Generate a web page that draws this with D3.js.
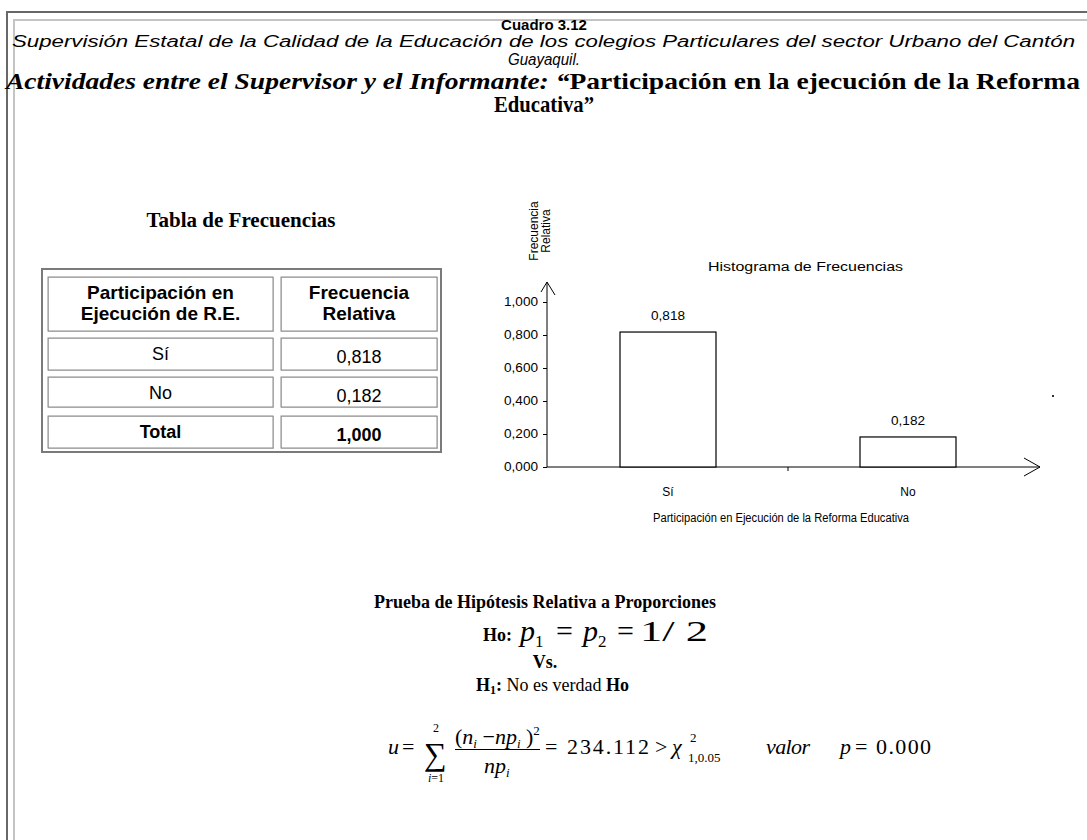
<!DOCTYPE html>
<html>
<head>
<meta charset="utf-8">
<title>Cuadro 3.12</title>
<script src="https://d3js.org/d3.v7.min.js"></script>
<style>
  body { margin: 0; background: #fff; }
  svg { display: block; }
  .sans { font-family: "Liberation Sans", Arial, sans-serif; }
  .serif { font-family: "Liberation Serif", "Times New Roman", serif; }
</style>
</head>
<body>
<svg id="chart"></svg>
<script>
// datos
const categories = ["Sí", "No"];
const relFreq = [0.818, 0.182];
const yTicks = [0, 0.2, 0.4, 0.6, 0.8, 1.0];
const headerCol1 = ["Participación en", "Ejecución de R.E."];
const headerCol2 = ["Frecuencia", "Relativa"];
const totalLabel = "Total";
const chiValue = "234.112";
const pValue = "0.000";

const W = 1087, H = 840;
const svg = d3.select("#chart").attr("width", W).attr("height", H);

// formato con coma decimal
const es = d3.formatLocale({decimal: ",", thousands: ".", grouping: [3], currency: ["", ""]});
const fmt = es.format(".3f");

// marco
svg.append("path").attr("d", `M7,${H} V12 H${W}`).attr("fill", "none").attr("stroke", "#686868").attr("stroke-width", 2);
svg.append("path").attr("d", `M14,${H} V20 H${W}`).attr("fill", "none").attr("stroke", "#c4c4c4").attr("stroke-width", 2);

// encabezados
svg.append("text").attr("class", "sans").attr("x", 544).attr("y", 30).attr("text-anchor", "middle")
  .attr("font-size", 15).attr("font-weight", "bold").text("Cuadro 3.12");
svg.append("text").attr("class", "sans").attr("x", 12).attr("y", 47).attr("font-size", 16).attr("font-style", "italic")
  .attr("textLength", 1063).attr("lengthAdjust", "spacingAndGlyphs")
  .text("Supervisión Estatal de la Calidad de la Educación de los colegios Particulares del sector Urbano del Cantón");
svg.append("text").attr("class", "sans").attr("x", 544).attr("y", 65).attr("text-anchor", "middle")
  .attr("font-size", 16).attr("font-style", "italic").attr("textLength", 72).attr("lengthAdjust", "spacingAndGlyphs")
  .text("Guayaquil.");

const t1 = svg.append("text").attr("class", "serif").attr("x", 6).attr("y", 89).attr("font-size", 24)
  .attr("font-weight", "bold").attr("textLength", 1074).attr("lengthAdjust", "spacingAndGlyphs");
t1.append("tspan").attr("font-style", "italic").text("Actividades entre el Supervisor y el Informante: “");
t1.append("tspan").text("Participación en la ejecución de la Reforma");
svg.append("text").attr("class", "serif").attr("x", 544).attr("y", 112).attr("text-anchor", "middle")
  .attr("font-size", 24).attr("font-weight", "bold").attr("textLength", 100).attr("lengthAdjust", "spacingAndGlyphs")
  .text("Educativa”");

// tabla de frecuencias
svg.append("text").attr("class", "serif").attr("x", 241).attr("y", 227).attr("text-anchor", "middle")
  .attr("font-size", 21).attr("font-weight", "bold").text("Tabla de Frecuencias");

const rows = categories.map((c, i) => ({a: c, b: fmt(relFreq[i]), bold: false}));
rows.push({a: totalLabel, b: fmt(d3.sum(relFreq)), bold: true});

const tbl = svg.append("g").attr("class", "sans");
tbl.append("rect").attr("x", 42).attr("y", 269).attr("width", 399).attr("height", 183)
  .attr("fill", "none").attr("stroke", "#7a7a7a").attr("stroke-width", 2);

const colX = [48, 281], colW = [225, 156];
const headTop = 277, headH = 54, rowH = 32, gap = 7;
const cell = (x, y, w, h) => {
  tbl.append("rect").attr("x", x + 0.5).attr("y", y + 0.5).attr("width", w).attr("height", h)
    .attr("fill", "none").attr("stroke", "#c8c8c8").attr("stroke-width", 1);
  tbl.append("rect").attr("x", x).attr("y", y).attr("width", w).attr("height", h)
    .attr("fill", "none").attr("stroke", "#8a8a8a").attr("stroke-width", 1);
};
[headerCol1, headerCol2].forEach((lines, j) => {
  cell(colX[j], headTop, colW[j], headH);
  lines.forEach((l, k) => {
    tbl.append("text").attr("x", colX[j] + colW[j] / 2).attr("y", headTop + 22 + k * 21)
      .attr("text-anchor", "middle").attr("font-size", 19).attr("font-weight", "bold").text(l);
  });
});
rows.forEach((r, i) => {
  const y = headTop + headH + gap + i * (rowH + gap);
  cell(colX[0], y, colW[0], rowH - (i === 1 ? 2 : 0));
  cell(colX[1], y, colW[1], rowH - (i === 1 ? 2 : 0));
  tbl.append("text").attr("x", colX[0] + colW[0] / 2).attr("y", y + 22).attr("text-anchor", "middle")
    .attr("font-size", 18).attr("font-weight", r.bold ? "bold" : "normal").text(r.a);
  tbl.append("text").attr("x", colX[1] + colW[1] / 2).attr("y", y + 25).attr("text-anchor", "middle")
    .attr("font-size", 18).attr("font-weight", r.bold ? "bold" : "normal").text(r.b);
});

// histograma
const x = d3.scaleBand().domain(categories).range([548, 1028]).paddingInner(0.6).paddingOuter(0.3);
const y = d3.scaleLinear().domain([0, 1]).range([467, 302]);
const ch = svg.append("g").attr("class", "sans").attr("font-size", 12).attr("fill", "#000");

ch.append("text").attr("x", 708).attr("y", 271).attr("textLength", 195).attr("lengthAdjust", "spacingAndGlyphs")
  .text("Histograma de Frecuencias");

const yAxis = d3.axisLeft(y).tickValues(yTicks).tickFormat(fmt).tickSize(4).tickPadding(5);
const gy = ch.append("g").attr("transform", "translate(547,0)").call(yAxis);
gy.select(".domain").remove();
gy.selectAll("text").attr("font-family", null).attr("font-size", 12)
  .attr("textLength", 34).attr("lengthAdjust", "spacingAndGlyphs");
ch.append("line").attr("x1", 547).attr("x2", 547).attr("y1", y(0)).attr("y2", 282).attr("stroke", "#000");
ch.append("path").attr("d", "M541,292 L547,282 L555,295").attr("fill", "none").attr("stroke", "#000");

ch.append("line").attr("x1", 547).attr("x2", 1040).attr("y1", y(0)).attr("y2", y(0)).attr("stroke", "#000");
ch.append("path").attr("d", `M1024,458 L1040,${y(0)} L1024,476`).attr("fill", "none").attr("stroke", "#000");
ch.append("line").attr("x1", x("No") - x.step() * x.paddingInner() / 2).attr("x2", x("No") - x.step() * x.paddingInner() / 2)
  .attr("y1", y(0)).attr("y2", y(0) + 4).attr("stroke", "#000");

ch.selectAll("rect.bar").data(relFreq).join("rect").attr("class", "bar")
  .attr("x", (d, i) => x(categories[i])).attr("width", x.bandwidth())
  .attr("y", d => y(d)).attr("height", d => y(0) - y(d))
  .attr("fill", "#fff").attr("stroke", "#000").attr("stroke-width", 1.2);
ch.selectAll("text.val").data(relFreq).join("text").attr("class", "val")
  .attr("x", (d, i) => x(categories[i]) + x.bandwidth() / 2 - 17).attr("y", d => y(d) - 12)
  .attr("textLength", 34).attr("lengthAdjust", "spacingAndGlyphs").text(d => fmt(d));
ch.selectAll("text.cat").data(categories).join("text").attr("class", "cat")
  .attr("x", d => x(d) + x.bandwidth() / 2).attr("y", 496).attr("text-anchor", "middle").text(d => d);
ch.append("text").attr("x", 653).attr("y", 522).attr("textLength", 256).attr("lengthAdjust", "spacingAndGlyphs")
  .text("Participación en Ejecución de la Reforma Educativa");

const yl = ch.append("text").attr("transform", "translate(538,231) rotate(-90)").attr("text-anchor", "middle");
yl.append("tspan").attr("x", 0).attr("dy", 0).text("Frecuencia");
yl.append("tspan").attr("x", 0).attr("dy", 12).text("Relativa");
ch.append("rect").attr("x", 1052).attr("y", 395).attr("width", 2).attr("height", 2).attr("fill", "#333");

// prueba de hipótesis
const pr = svg.append("g").attr("class", "serif");
pr.append("text").attr("x", 545).attr("y", 608).attr("text-anchor", "middle").attr("font-size", 18)
  .attr("font-weight", "bold").text("Prueba de Hipótesis Relativa a Proporciones");

pr.append("text").attr("x", 483).attr("y", 641).attr("font-size", 18).attr("font-weight", "bold").text("Ho:");
const ho = pr.append("g").attr("font-size", 30);
const p1 = ho.append("text").attr("x", 520).attr("y", 641);
p1.append("tspan").attr("font-style", "italic").text("p");
p1.append("tspan").attr("font-size", 17).attr("dy", 6).text("1");
ho.append("text").attr("x", 556).attr("y", 641).text("=");
const p2 = ho.append("text").attr("x", 583).attr("y", 641);
p2.append("tspan").attr("font-style", "italic").text("p");
p2.append("tspan").attr("font-size", 17).attr("dy", 6).text("2");
ho.append("text").attr("x", 617).attr("y", 641).text("=");
ho.append("text").attr("x", 640).attr("y", 641).attr("textLength", 68).attr("lengthAdjust", "spacingAndGlyphs").text("1/ 2");

pr.append("text").attr("x", 545).attr("y", 668).attr("text-anchor", "middle").attr("font-size", 18)
  .attr("font-weight", "bold").text("Vs.");
const h1 = pr.append("text").attr("x", 476).attr("y", 691).attr("font-size", 18);
h1.append("tspan").attr("font-weight", "bold").text("H");
h1.append("tspan").attr("font-weight", "bold").attr("font-size", 12).attr("dy", 3).text("1");
h1.append("tspan").attr("font-weight", "bold").attr("dy", -3).text(":");
h1.append("tspan").text(" No es verdad ");
h1.append("tspan").attr("font-weight", "bold").text("Ho");

// fórmula
const fb = 754;
const fm = pr.append("g").attr("font-size", 22);
fm.append("text").attr("x", 388).attr("y", fb).attr("font-style", "italic").text("u");
fm.append("text").attr("x", 402).attr("y", fb).text("=");
fm.append("text").attr("x", 424).attr("y", 765).attr("font-size", 32).text("∑");
fm.append("text").attr("x", 436).attr("y", 732).attr("font-size", 12).attr("text-anchor", "middle").text("2");
const lim = fm.append("text").attr("x", 436).attr("y", 782).attr("font-size", 12).attr("text-anchor", "middle");
lim.append("tspan").attr("font-style", "italic").text("i");
lim.append("tspan").text("=1");

const num = fm.append("text").attr("x", 455).attr("y", 744);
num.append("tspan").text("(");
num.append("tspan").attr("font-style", "italic").text("n");
num.append("tspan").attr("font-style", "italic").attr("font-size", 13).attr("dy", 4).text("i");
num.append("tspan").attr("dy", -4).text(" −");
num.append("tspan").attr("font-style", "italic").text("np");
num.append("tspan").attr("font-style", "italic").attr("font-size", 13).attr("dy", 4).text("i");
num.append("tspan").attr("dy", -4).text(" )");
num.append("tspan").attr("font-size", 13).attr("dy", -9).text("2");
fm.append("line").attr("x1", 455).attr("x2", 540).attr("y1", 749.5).attr("y2", 749.5).attr("stroke", "#000");
const den = fm.append("text").attr("x", 484).attr("y", 773);
den.append("tspan").attr("font-style", "italic").text("np");
den.append("tspan").attr("font-style", "italic").attr("font-size", 13).attr("dy", 4).text("i");

fm.append("text").attr("x", 545).attr("y", fb).text("=");
fm.append("text").attr("x", 567).attr("y", fb).attr("textLength", 82).attr("lengthAdjust", "spacing").text(chiValue);
fm.append("text").attr("x", 655).attr("y", fb).text(">");
fm.append("text").attr("x", 672).attr("y", fb).attr("font-style", "italic").text("χ");
fm.append("text").attr("x", 690).attr("y", 742).attr("font-size", 13).text("2");
fm.append("text").attr("x", 688).attr("y", 762).attr("font-size", 13).text("1,0.05");
fm.append("text").attr("x", 766).attr("y", fb).attr("font-style", "italic").attr("textLength", 44).text("valor");
fm.append("text").attr("x", 840).attr("y", fb).attr("font-style", "italic").text("p");
fm.append("text").attr("x", 855).attr("y", fb).text("=");
fm.append("text").attr("x", 876).attr("y", fb).attr("textLength", 55).attr("lengthAdjust", "spacing").text(pValue);
</script>
</body>
</html>
